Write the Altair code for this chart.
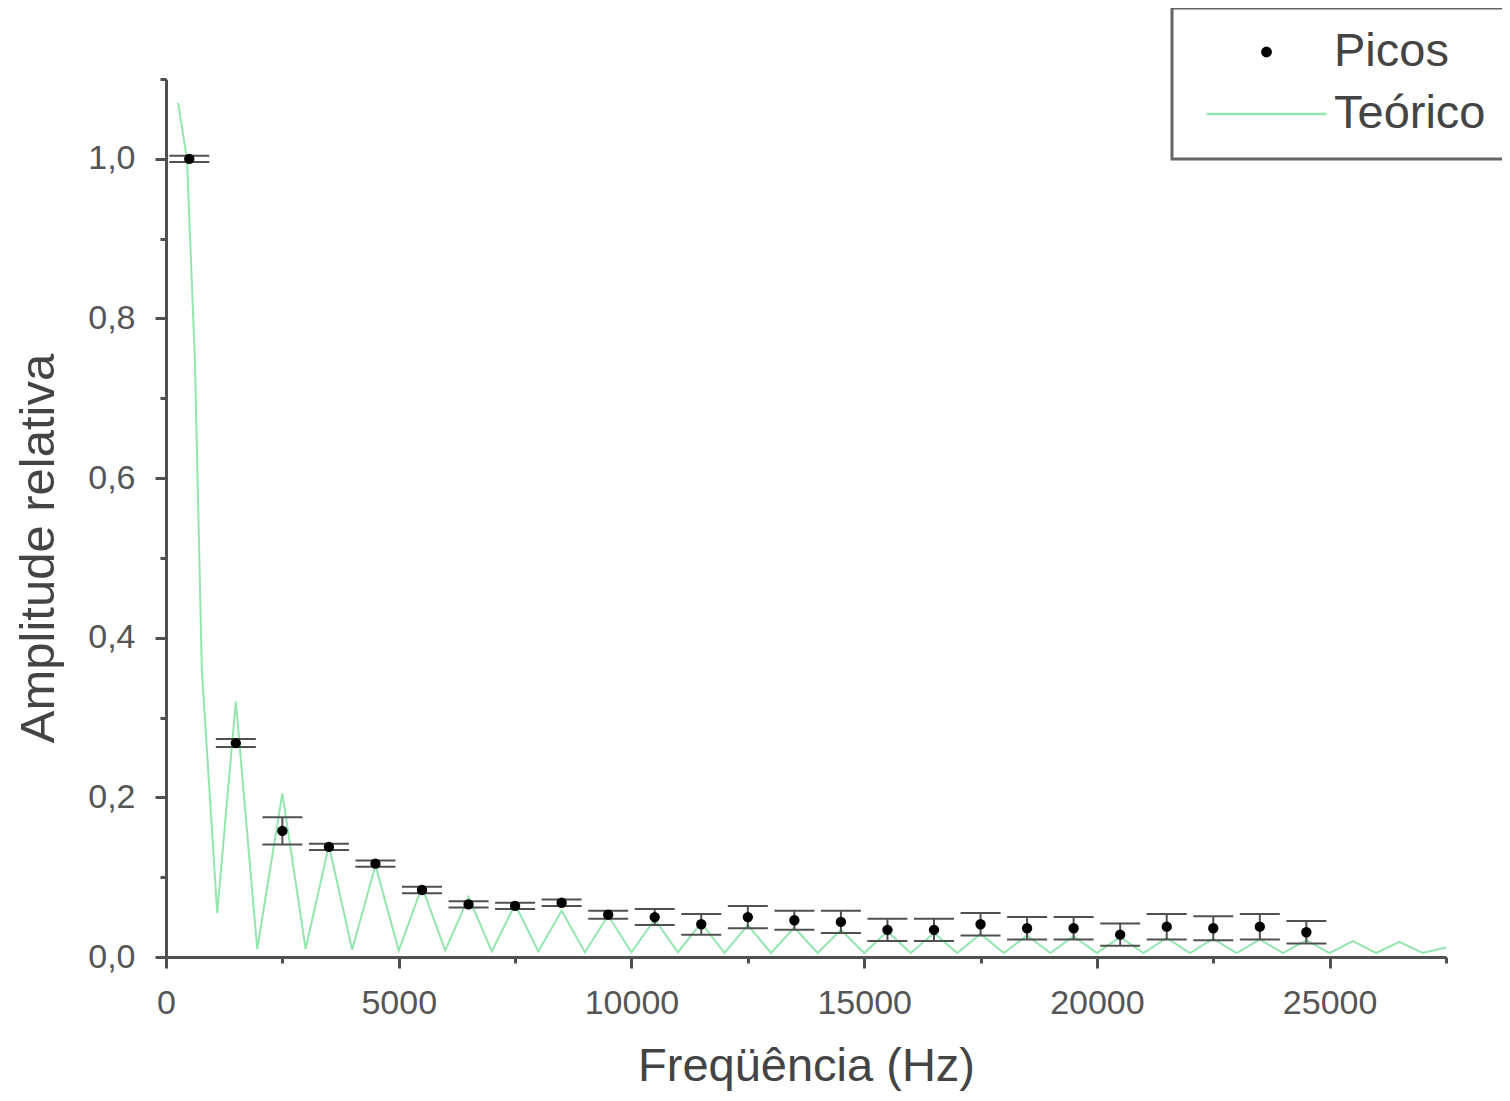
import altair as alt
import pandas as pd

# ---- measured peaks (Picos) ----
peak_freq = [500, 1500, 2500, 3500, 4500, 5500, 6500, 7500, 8500, 9500, 10500, 11500,
             12500, 13500, 14500, 15500, 16500, 17500, 18500, 19500, 20500, 21500,
             22500, 23500, 24500]
peak_amp = [1.0, 0.268, 0.158, 0.138, 0.117, 0.084, 0.066, 0.064, 0.068, 0.053, 0.050,
            0.041, 0.050, 0.046, 0.044, 0.034, 0.034, 0.041, 0.036, 0.036, 0.028, 0.038,
            0.036, 0.038, 0.031]
peak_err = [0.004, 0.005, 0.017, 0.004, 0.004, 0.004, 0.004, 0.004, 0.004, 0.005, 0.010,
            0.013, 0.014, 0.012, 0.014, 0.014, 0.014, 0.014, 0.014, 0.014, 0.014, 0.016,
            0.015, 0.016, 0.014]

# ---- theoretical curve (Teórico) ----
theo_freq = [260, 450, 620, 770, 1100, 1500, 1960,
             2500, 3000, 3500, 4000, 4500, 5000, 5500, 6000, 6500, 7000, 7500, 8000,
             8500, 9000, 9500, 10000, 10500, 11000, 11500, 12000, 12500, 13000, 13500,
             14000, 14500, 15000, 15500, 16000, 16500, 17000, 17500, 18000, 18500, 19000,
             19500, 20000, 20500, 21000, 21500, 22000, 22500, 23000, 23500, 24000, 24500,
             25000, 25500, 26000, 26500, 27000, 27500]
theo_amp = [1.07, 1.0, 0.75, 0.36, 0.055, 0.32, 0.01,
            0.205, 0.01, 0.14, 0.009, 0.115, 0.008, 0.088, 0.008, 0.075, 0.007, 0.066, 0.007,
            0.058, 0.006, 0.052, 0.006, 0.047, 0.006, 0.043, 0.005, 0.040, 0.005, 0.037,
            0.005, 0.034, 0.005, 0.032, 0.005, 0.030, 0.005, 0.029, 0.005, 0.027, 0.005,
            0.026, 0.005, 0.025, 0.005, 0.024, 0.005, 0.023, 0.005, 0.022, 0.005, 0.021,
            0.005, 0.020, 0.005, 0.019, 0.005, 0.012]

series_names = ["Picos", "Teórico"]
x_ticks = [0, 2500, 5000, 7500, 10000, 12500, 15000, 17500, 20000, 22500, 25000, 27500]
y_ticks = [0.0, 0.1, 0.2, 0.3, 0.4, 0.5, 0.6, 0.7, 0.8, 0.9, 1.0, 1.1]

GREEN = "#93e6ad"
AXC = "#505050"
FONT = "Liberation Sans"

df_p = pd.DataFrame({"freq": peak_freq, "amp": peak_amp, "err": peak_err})
df_p["lo"] = df_p["amp"] - df_p["err"]
df_p["hi"] = df_p["amp"] + df_p["err"]
df_p["serie"] = series_names[0]
df_t = pd.DataFrame({"freq": theo_freq, "amp": theo_amp})

xscale = alt.Scale(domain=[0, 27500], nice=False, zero=False)
yscale = alt.Scale(domain=[0, 1.1], nice=False, zero=False)

x_axis = alt.Axis(
    values=x_ticks,
    labelExpr="datum.value % 5000 === 0 ? format(datum.value, 'd') : ''",
    tickSize={"condition": {"test": "datum.value % 5000 === 0", "value": 11}, "value": 6},
    labelFlush=False, labelOverlap=False, grid=False,
    labelPadding=18, titlePadding=23, titleFontSize=47,
)
y_axis = alt.Axis(
    values=y_ticks,
    labelExpr="round(datum.value*10) % 2 === 0 ? replace(format(datum.value, '.1f'), '.', ',') : ''",
    tickSize={"condition": {"test": "round(datum.value*10) % 2 === 0", "value": 11}, "value": 6},
    labelOverlap=False, grid=False,
    labelPadding=20, titlePadding=24, titleY=469,
)

X = alt.X("freq:Q", scale=xscale, axis=x_axis, title="Freqüência (Hz)")
Y_amp = alt.Y("amp:Q", scale=yscale, axis=y_axis, title="Amplitude relativa")

line = alt.Chart(df_t).mark_line(color=GREEN, strokeWidth=2).encode(x=X, y=Y_amp)

rules = alt.Chart(df_p).mark_rule(color=AXC, strokeWidth=2).encode(
    x=X, y=alt.Y("lo:Q", scale=yscale, axis=y_axis, title="Amplitude relativa"), y2="hi:Q")
caps_lo = alt.Chart(df_p).mark_tick(orient="horizontal", size=40, thickness=2, color=AXC, opacity=1).encode(
    x=X, y=alt.Y("lo:Q", scale=yscale, axis=y_axis, title="Amplitude relativa"))
caps_hi = alt.Chart(df_p).mark_tick(orient="horizontal", size=40, thickness=2, color=AXC, opacity=1).encode(
    x=X, y=alt.Y("hi:Q", scale=yscale, axis=y_axis, title="Amplitude relativa"))

leg = alt.Legend(
    title=None, orient="none", legendX=1006, legendY=-71,
    padding=22, symbolOffset=11, labelOffset=6, clipHeight=44, rowPadding=15,
    labelFontSize=47, labelFont=FONT, labelColor="#444", labelLimit=600,
    labelExpr="datum.label + '    '",
    strokeColor="#666", symbolStrokeWidth=2.5,
)

points = alt.Chart(df_p).mark_point(filled=True, opacity=1, strokeWidth=2).encode(
    x=X, y=Y_amp,
    fill=alt.Fill("serie:N", scale=alt.Scale(domain=series_names, range=["black", "transparent"]), legend=leg),
    stroke=alt.Stroke("serie:N", scale=alt.Scale(domain=series_names, range=["black", GREEN]), legend=leg),
    shape=alt.Shape("serie:N", scale=alt.Scale(domain=series_names, range=["circle", "stroke"]), legend=leg),
    size=alt.Size("serie:N", scale=alt.Scale(type="point", padding=0, domain=series_names, range=[70, 14400]), legend=leg),
)

chart = alt.layer(line, rules, caps_lo, caps_hi, points).properties(
    width=1280, height=878,
    autosize=alt.AutoSizeParams(type="none"),
    padding={"left": 158, "top": 71, "right": 56, "bottom": 136},
    background="white",
).configure_view(stroke=None).configure_axis(
    domainColor=AXC, domainWidth=3, tickColor=AXC, tickWidth=3,
    labelFont=FONT, labelFontSize=34, labelColor="#555",
    titleFont=FONT, titleFontSize=49, titleFontWeight="normal", titleColor="#444",
).configure_legend(strokeWidth=3)

chart.save("out.html", embed_options={"renderer": "svg", "actions": False})
